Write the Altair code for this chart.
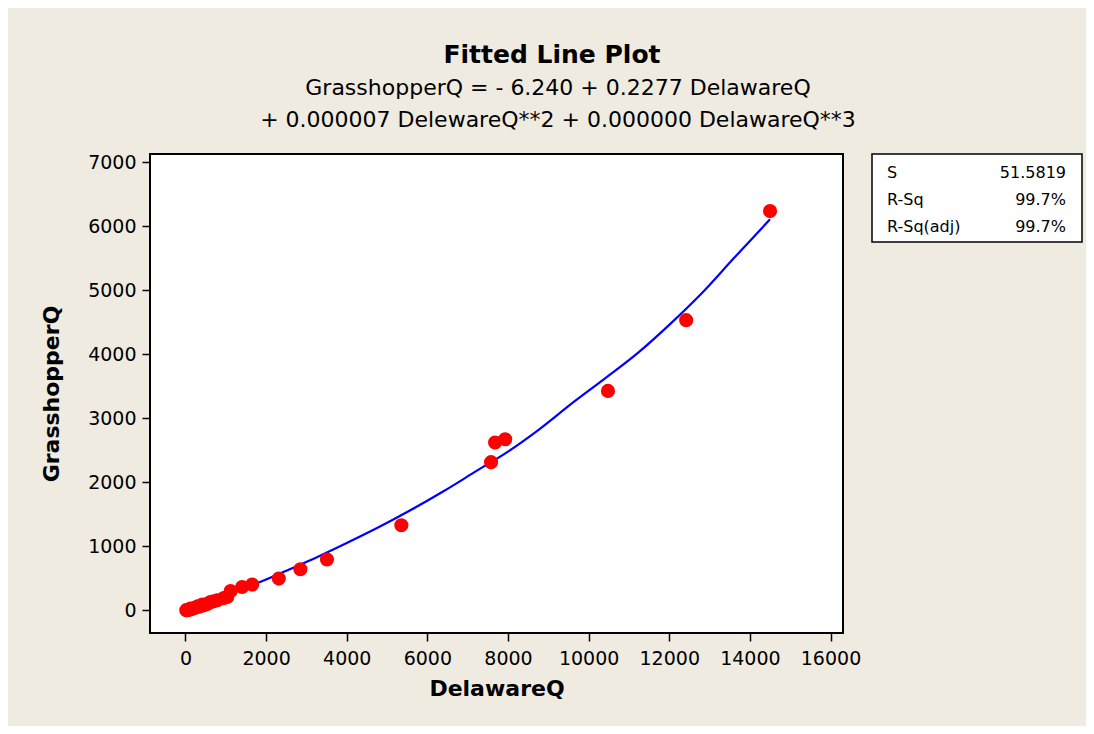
import altair as alt
import pandas as pd

delaware_q = [14500, 12420, 10480, 7930, 7680, 7580, 5355, 3510, 2850, 2315,
              1655, 1405, 1120, 1035, 950, 790, 700, 620, 540, 460, 420,
              380, 330, 300, 250, 200, 150, 120, 100, 60, 40, 20]
grasshopper_q = [6238, 4534, 3428, 2673, 2622, 2314, 1329, 794, 641, 495,
                 402, 364, 302, 208, 190, 156, 140, 130, 100, 80, 90,
                 65, 55, 60, 42, 30, 20, 25, 10, 5, 0, 2]

# Fitted curve
fit_x = [0, 500, 1000, 1500, 2000, 2600, 3300, 4000, 4800, 5600, 6400,
         7200, 8000, 8800, 9600, 10400, 11200, 12000, 12800, 13600, 14500]
fit_y = [-6, 110, 229, 353, 481, 645, 840, 1050, 1300, 1570, 1860,
         2170, 2480, 2840, 3240, 3620, 4010, 4460, 4950, 5500, 6110]

title_text = "Fitted Line Plot"
subtitle_lines = ["GrasshopperQ =  - 6.240 + 0.2277 DelawareQ",
                  "+ 0.000007 DelewareQ**2 + 0.000000 DelawareQ**3"]
stat_names = ["S", "R-Sq", "R-Sq(adj)"]
stat_values = ["51.5819", "99.7%", "99.7%"]

x_ticks = list(range(0, 16001, 2000))
y_ticks = list(range(0, 7001, 1000))

FONT = "DejaVu Sans"
BG = "#EFEBE1"

pts = pd.DataFrame({"DelawareQ": delaware_q, "GrasshopperQ": grasshopper_q})
fit = pd.DataFrame({"DelawareQ": fit_x, "GrasshopperQ": fit_y})

xs = alt.Scale(domain=[-880, 16310], nice=False, zero=False)
ys = alt.Scale(domain=[-355, 7130], nice=False, zero=False)

xenc = alt.X("DelawareQ:Q", scale=xs, title="DelawareQ",
             axis=alt.Axis(values=x_ticks, format="d"))
yenc = alt.Y("GrasshopperQ:Q", scale=ys, title="GrasshopperQ",
             axis=alt.Axis(values=y_ticks, format="d"))

line = alt.Chart(fit).mark_line(color="#0000FF", strokeWidth=2.2, interpolate="monotone").encode(
    x=xenc, y=yenc)
points = alt.Chart(pts).mark_circle(color="#FF0000", size=200, opacity=1).encode(
    x="DelawareQ:Q", y="GrasshopperQ:Q")

one = pd.DataFrame({"a": [0]})
layers = [line, points]

# Title block
layers.append(alt.Chart(one).mark_text(font=FONT, fontSize=25, fontWeight="bold", color="black",
                                       align="center", baseline="middle").encode(
    text=alt.value(title_text), x=alt.value(402), y=alt.value(-99)))
for i, s in enumerate(subtitle_lines):
    layers.append(alt.Chart(one).mark_text(font=FONT, fontSize=22, color="black",
                                           align="center", baseline="middle").encode(
        text=alt.value(s), x=alt.value(408), y=alt.value(-66 + 32 * i)))

# Stats box
layers.append(alt.Chart(one).mark_rect(fill="white", stroke="black", strokeWidth=1.5).encode(
    x=alt.value(722), x2=alt.value(932), y=alt.value(0), y2=alt.value(88)))
for i, (n, v) in enumerate(zip(stat_names, stat_values)):
    yy = 19 + 27 * i
    layers.append(alt.Chart(one).mark_text(font=FONT, fontSize=16, color="black", align="left",
                                           baseline="middle").encode(
        text=alt.value(n), x=alt.value(737), y=alt.value(yy)))
    layers.append(alt.Chart(one).mark_text(font=FONT, fontSize=16, color="black", align="right",
                                           baseline="middle").encode(
        text=alt.value(v), x=alt.value(916), y=alt.value(yy)))

chart = alt.layer(*layers).properties(
    width=693, height=479,
    autosize=alt.AutoSizeParams(type="none"),
    padding={"left": 142, "top": 146, "right": 243, "bottom": 93},
    background=BG,
).configure_view(
    stroke="black", strokeWidth=2, fill="white"
).configure_axis(
    grid=False, domain=False, tickColor="black", tickSize=8, tickWidth=1.5,
    labelFont=FONT, labelFontSize=19, labelColor="black",
    titleFont=FONT, titleFontSize=22, titleFontWeight="bold", titleColor="black",
).configure_axisX(
    labelPadding=8, titlePadding=10,
).configure_axisY(
    labelPadding=6, titlePadding=24,
)

chart.save("out.html", embed_options={"renderer": "svg", "actions": False})
